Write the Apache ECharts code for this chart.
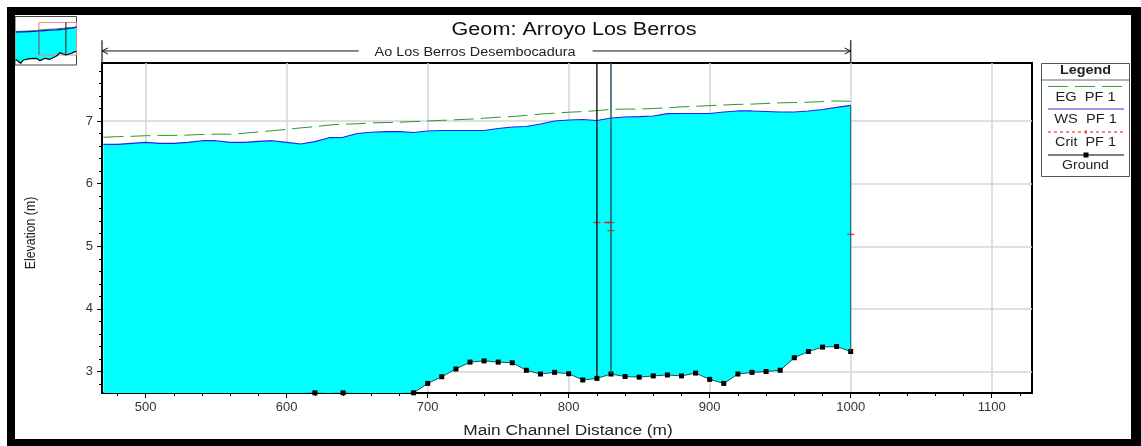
<!DOCTYPE html>
<html><head><meta charset="utf-8">
<style>html,body{margin:0;padding:0;background:#fff}#c{width:1141px;height:446px}</style>
<script src="https://cdn.jsdelivr.net/npm/echarts@6/dist/echarts.min.js"></script>
</head><body><div id="c"></div>
<script>
const chartTitle = 'Geom: Arroyo Los Berros';
const reachName = 'Ao Los Berros Desembocadura';
const xMin = 469, xMax = 1128.6, yMin = 2.657, yMax = 7.926;
const xTickLabels = [500,600,700,800,900,1000,1100];
const yTickLabels = [3,4,5,6,7];
const xMinorTicks = [480,500,520,540,560,580,600,620,640,660,680,700,720,740,760,780,800,820,840,860,880,900,920,940,960,980,1000,1020,1040,1060,1080,1100,1120];
const yMinorTicks = [2.8,3,3.2,3.4,3.6,3.8,4,4.2,4.4,4.6,4.8,5,5.2,5.4,5.6,5.8,6,6.2,6.4,6.6,6.8,7,7.2,7.4,7.6,7.8];
const stations = [470,480,490,500,510,520,530,540,550,560,570,580,590,600,610,620,630,640,650,660,670,680,690,700,710,720,730,740,750,760,770,780,790,800,810,820,830,840,850,860,870,880,890,900,910,920,930,940,950,960,970,980,990,1000];
const egPF1 = [6.74,6.75,6.755,6.765,6.77,6.77,6.775,6.785,6.79,6.79,6.805,6.825,6.845,6.867,6.89,6.91,6.935,6.95,6.955,6.97,6.975,6.98,6.99,7.0,7.01,7.02,7.03,7.045,7.06,7.07,7.09,7.11,7.125,7.14,7.15,7.165,7.187,7.19,7.19,7.2,7.21,7.225,7.235,7.245,7.255,7.265,7.27,7.28,7.29,7.295,7.3,7.31,7.32,7.315];
const wsPF1 = [6.628,6.628,6.644,6.66,6.644,6.644,6.66,6.685,6.685,6.66,6.66,6.676,6.685,6.66,6.633,6.67,6.733,6.74,6.8,6.82,6.83,6.83,6.816,6.84,6.848,6.848,6.848,6.848,6.88,6.904,6.912,6.952,7.0,7.016,7.024,7.008,7.048,7.064,7.07,7.08,7.117,7.12,7.12,7.12,7.144,7.16,7.16,7.152,7.144,7.144,7.16,7.184,7.216,7.25];
const ground = [null,null,null,null,null,null,null,null,null,null,null,null,null,null,null,2.66,null,2.66,null,null,null,null,2.66,2.81,2.917,3.04,3.15,3.17,3.15,3.14,3.02,2.96,2.987,2.965,2.865,2.89,2.96,2.92,2.91,2.93,2.945,2.93,2.975,2.875,2.81,2.96,2.987,3.0,3.02,3.22,3.32,3.39,3.4,3.32];
const critDashX = [825,830];
const critDashY = [5.38,5.38];
const critMarkX = [820,830,830,1000];
const critMarkY = [5.38,5.38,5.25,5.19];
const structureStations = [820,830];
const reachStart = 469, reachEnd = 1000, reachArrowLeftEnd = 651, reachArrowRightStart = 817;
const reachY = 8.118, reachTopY = 8.29;
// overview thumbnail
const ovX = [2,5,17,25,45,65,75,90,105,125,135,145,153,170,180,185];
const ovWS = [98,98,99,99,100,101,102,103,104,105,106,107,108,110,112,114];
const ovEG = [100,100,101,101,102,103,105,106,107,108,109,110,111,112,113,115];
const ovGround = [17,17,5,15,19,20,13,20,17,27,37,33,30,35,40,40];

const baseVals = ground.map(g => g == null ? yMin : g);

const legendRows = [
  {label:'EG  PF 1', y:98, sx:1.22},{label:'WS  PF 1', y:120, sx:1.22},{label:'Crit  PF 1', y:143, sx:1.2},{label:'Ground', y:166, sx:1.17}
];
const txt = (x,y,t,size,sx,extra={}) => ({type:'text',x,y,scaleX:sx,silent:true,style:Object.assign({text:t,fontFamily:'Liberation Sans',fontSize:size,fill:'#222',align:'center',verticalAlign:'middle'},extra)});
const ln = (x1,y1,x2,y2,stroke,w,dash) => ({type:'line',silent:true,shape:{x1,y1,x2,y2},style:{stroke,lineWidth:w,lineDash:dash||null}});
const bar = (x,y,width,height) => ({type:'rect',silent:true,shape:{x,y,width,height},style:{fill:'#000'}});

const graphic = [
  bar(7,7,1134,8), bar(7,7,8,439), bar(1131,7,10,439), bar(7,439,1134,7),
  txt(574,30,chartTitle,18,1.2,{fill:'#111'}),
  txt(475,53,reachName,12,1.2),
  txt(568,431,'Main Channel Distance (m)',14,1.235),
  Object.assign(txt(31,233,'Elevation (m)',14,0.88),{rotation:Math.PI/2}),
  {type:'rect',silent:true,shape:{x:1041.5,y:63.5,width:88,height:113},style:{fill:'#fff',stroke:'#555',lineWidth:1}},
  txt(1085.5,71,'Legend',12,1.2,{fontWeight:'bold'}),
  ln(1042,80,1129,80,'#666',1),
  ln(1048,86.5,1122,86.5,'#3fa03f',1,[20,7]),
  ln(1048,109,1124,109,'#3030e0',1),
  ln(1048,132,1124,132,'#ee1111',1,[3,3]),
  ln(1086,130,1086,134,'#ee1111',1),
  ln(1048,155,1124,155,'#000',1),
  {type:'rect',silent:true,shape:{x:1083.5,y:152.5,width:5,height:5},style:{fill:'#000'}},
  ...legendRows.map(r => txt(1085.5,r.y,r.label,12,r.sx))
];

// Filled band between an upper and a lower profile, placed through the axes.
function bandSeries(xs, upper, lower, xAxisIndex, yAxisIndex, z){
  return {type:'custom',xAxisIndex,yAxisIndex,z,silent:true,data:[[xs[0],upper[0]]],
    renderItem:(p,api)=>{
      const pts = xs.map((x,i)=>api.coord([x,upper[i]]));
      for(let i=xs.length-1;i>=0;i--) pts.push(api.coord([xs[i],lower[i]]));
      return {type:'polygon',shape:{points:pts},style:{fill:'#00ffff'}};
    }};
}
// Reach marker above the plot.
const reachSeries = {type:'custom',xAxisIndex:0,yAxisIndex:0,z:8,silent:true,clip:false,data:[[reachStart,reachY]],
  renderItem:(p,api)=>{
    const a=api.coord([reachStart,reachY]), b=api.coord([reachArrowLeftEnd,reachY]),
          c=api.coord([reachArrowRightStart,reachY]), d=api.coord([reachEnd,reachY]),
          t0=api.coord([reachStart,reachTopY]), t1=api.coord([reachEnd,reachTopY]),
          g0=api.coord([reachStart,yMax]), g1=api.coord([reachEnd,yMax]);
    const st={stroke:'#111',lineWidth:1,fill:null};
    const seg=(u,v,s)=>({type:'line',shape:{x1:u[0],y1:u[1],x2:v[0],y2:v[1]},style:s||st});
    const grey={stroke:'#444',lineWidth:1.5,fill:null};
    return {type:'group',children:[
      seg(a,b),seg(c,d),seg(t0,g0,grey),seg(t1,g1,grey),
      seg(a,[a[0]+6,a[1]-3]),seg(a,[a[0]+6,a[1]+3]),
      seg(d,[d[0]-6,d[1]-3]),seg(d,[d[0]-6,d[1]+3])
    ]};
  }};

const option = {
  animation:false,
  backgroundColor:'#fff',
  graphic,
  grid:[
    {left:102,top:63,width:930,height:330,show:true,borderColor:'#000',borderWidth:2,backgroundColor:'transparent'},
    {left:15,top:16.5,width:61.5,height:48.5,show:true,borderColor:'#444',borderWidth:1}
  ],
  xAxis:[
    {type:'value',gridIndex:0,min:xMin,max:xMax,interval:100,position:'bottom',
     axisLine:{show:true,lineStyle:{color:'#000',width:2}},
     axisTick:{show:true,length:5,customValues:xTickLabels,lineStyle:{color:'#000'}},
     axisLabel:{customValues:xTickLabels,formatter:v=>String(v),color:'#333',fontFamily:'Liberation Sans',fontSize:13,margin:8},
     splitLine:{show:true,lineStyle:{color:'#d6d6d6',width:1.5}}},
    {type:'value',gridIndex:0,min:xMin,max:xMax,position:'bottom',
     axisLine:{show:false},axisLabel:{show:false},splitLine:{show:false},
     axisTick:{show:true,length:3,customValues:xMinorTicks,lineStyle:{color:'#000'}}},
    {type:'value',gridIndex:1,min:0,max:185,show:false}
  ],
  yAxis:[
    {type:'value',gridIndex:0,min:yMin,max:yMax,interval:1,position:'left',
     axisLine:{show:true,lineStyle:{color:'#000',width:2}},
     axisTick:{show:true,length:5,customValues:yTickLabels,lineStyle:{color:'#000'}},
     axisLabel:{customValues:yTickLabels,color:'#333',fontFamily:'Liberation Sans',fontSize:13,margin:9},
     splitLine:{show:true,lineStyle:{color:'#d6d6d6',width:1.5}}},
    {type:'value',gridIndex:0,min:yMin,max:yMax,position:'left',
     axisLine:{show:false},axisLabel:{show:false},splitLine:{show:false},
     axisTick:{show:true,length:3,customValues:yMinorTicks,lineStyle:{color:'#000'}}},
    {type:'value',gridIndex:1,min:0,max:145,show:false}
  ],
  series:[
    bandSeries(stations,wsPF1,baseVals,0,0,2),
    {type:'line',name:'EG PF 1',symbol:'none',z:5,lineStyle:{color:'#2c962c',width:1,type:[20,7]},
     data:stations.map((x,i)=>[x,egPF1[i]])},
    {type:'line',name:'WS PF 1',symbol:'none',z:5,lineStyle:{color:'#2222ee',width:1.2},
     data:stations.map((x,i)=>[x,wsPF1[i]])},
    {type:'line',name:'Ground',z:6,symbol:'rect',symbolSize:5,showSymbol:true,showAllSymbol:true,connectNulls:false,
     itemStyle:{color:'#000'},lineStyle:{color:'#115555',width:1},
     data:stations.map((x,i)=>[x,ground[i]==null?'-':ground[i]])},
    {type:'line',name:'Crit PF 1',z:6,symbol:'none',lineStyle:{color:'#ee2222',width:1.5},
     data:critDashX.map((x,i)=>[x,critDashY[i]])},
    {type:'scatter',name:'Crit marks',z:6,symbol:'rect',symbolSize:[7,1.5],itemStyle:{color:'#ee2222'},
     data:critMarkX.map((x,i)=>[x,critMarkY[i]])},
    {type:'line',name:'s820',z:7,symbol:'none',lineStyle:{color:'#000',width:1.3},
     data:[[structureStations[0],baseVals[stations.indexOf(structureStations[0])]],[structureStations[0],yMax]]},
    {type:'line',name:'s830',z:7,symbol:'none',lineStyle:{color:'#1c5f5f',width:1.5},
     data:[[structureStations[1],baseVals[stations.indexOf(structureStations[1])]],[structureStations[1],yMax]]},
    {type:'line',name:'end',z:7,symbol:'none',lineStyle:{color:'#1c5f5f',width:1},
     data:[[1000,ground[ground.length-1]],[1000,wsPF1[wsPF1.length-1]]]},
    reachSeries,
    // overview
    bandSeries(ovX,ovWS,ovGround,2,2,2),
    {type:'line',xAxisIndex:2,yAxisIndex:2,symbol:'none',z:3,lineStyle:{color:'#f08080',width:1},
     data:[[72,30],[72,127],[185,127],[185,30],[72,30]]},
    {type:'line',xAxisIndex:2,yAxisIndex:2,symbol:'none',z:4,lineStyle:{color:'#2c962c',width:1},data:ovX.map((x,i)=>[x,ovEG[i]])},
    {type:'line',xAxisIndex:2,yAxisIndex:2,symbol:'none',z:4,lineStyle:{color:'#1111dd',width:1.2},data:ovX.map((x,i)=>[x,ovWS[i]])},
    {type:'line',xAxisIndex:2,yAxisIndex:2,symbol:'none',z:4,lineStyle:{color:'#000',width:1.2},data:ovX.map((x,i)=>[x,ovGround[i]])},
    {type:'line',xAxisIndex:2,yAxisIndex:2,symbol:'none',z:5,lineStyle:{color:'#1c7f7f',width:1},data:[[72,30],[72,105]]},
    {type:'line',xAxisIndex:2,yAxisIndex:2,symbol:'none',z:5,lineStyle:{color:'#333',width:1.2},data:[[153,33],[153,128]]}
  ]
};
echarts.init(document.getElementById('c'),null,{renderer:'canvas'}).setOption(option);
</script></body></html>
